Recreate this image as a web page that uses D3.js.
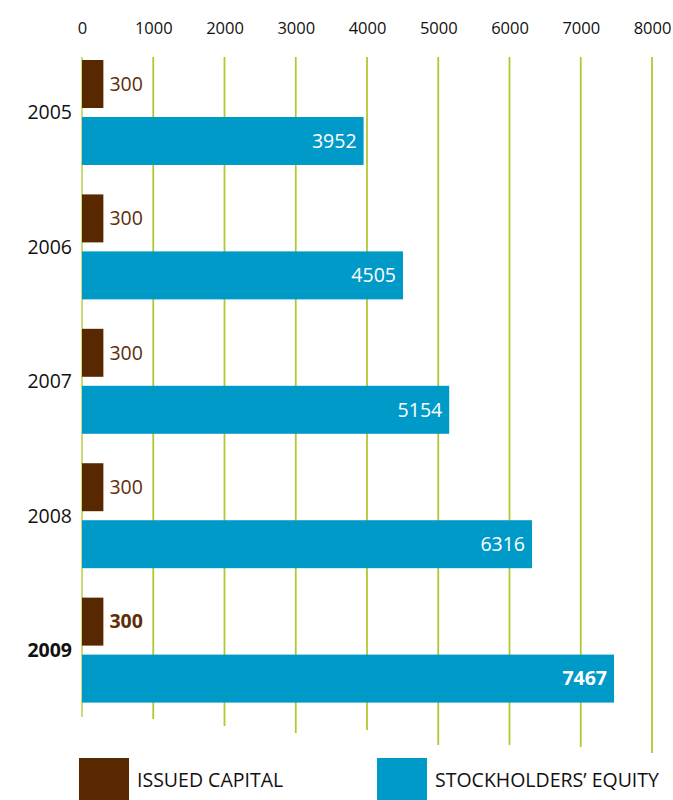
<!DOCTYPE html>
<html>
<head>
<meta charset="utf-8">
<script src="https://cdn.jsdelivr.net/npm/d3@7"></script>
<style>
  html, body { margin: 0; padding: 0; background: #fff; }
  svg { display: block; font-family: "Open Sans", "Noto Sans", sans-serif; }
</style>
</head>
<body>
<svg id="chart" width="673" height="800"></svg>
<script>
// Balance-sheet figures (in thousands)
const years = ["2005", "2006", "2007", "2008", "2009"];
const seriesNames = ["ISSUED CAPITAL", "STOCKHOLDERS’ EQUITY"];
const issuedCapital = [300, 300, 300, 300, 300];
const stockholdersEquity = [3952, 4505, 5154, 6316, 7467];
const tickValues = [0, 1000, 2000, 3000, 4000, 5000, 6000, 7000, 8000];

const seriesColors = ["#582800", "#009ac8"];
const gridColor = "#b7c530";
const highlightYear = "2009";

const rows = years.map((y, i) => ({
  year: y,
  values: [
    { key: seriesNames[0], value: issuedCapital[i] },
    { key: seriesNames[1], value: stockholdersEquity[i] }
  ]
}));

const svg = d3.select("#chart");

const x = d3.scaleLinear().domain([0, 8000]).range([82, 652]);

const y0 = d3.scaleBand()
  .domain(years)
  .range([60, 702.6])
  .paddingInner(0.219)
  .paddingOuter(0);

const y1 = d3.scaleBand()
  .domain(seriesNames)
  .range([0, y0.bandwidth()])
  .paddingInner(0.158)
  .paddingOuter(0);

const color = d3.scaleOrdinal().domain(seriesNames).range(seriesColors);

// Vertical grid lines; their lower ends step down toward the right
const gridBottoms = [717, 719, 726, 733, 730, 745, 745, 747, 753];
svg.append("g")
  .selectAll("line")
  .data(tickValues)
  .join("line")
  .attr("x1", d => x(d))
  .attr("x2", d => x(d))
  .attr("y1", 57)
  .attr("y2", (d, i) => gridBottoms[i])
  .attr("stroke", gridColor)
  .attr("stroke-width", (d, i) => i === 0 ? 1.3 : 1.8);

// Top value axis labels
const axis = d3.axisTop(x).tickValues(tickValues).tickSize(0).tickPadding(0).tickFormat(d3.format("d"));
svg.append("g")
  .attr("transform", "translate(0,34)")
  .call(axis)
  .call(g => g.select(".domain").remove())
  .selectAll("text")
  .attr("font-family", "Open Sans, Noto Sans, sans-serif")
  .attr("font-size", 16.5)
  .attr("fill", "#111");

// Bar groups
const groups = svg.append("g")
  .selectAll("g")
  .data(rows)
  .join("g")
  .attr("transform", d => `translate(0,${y0(d.year)})`);

groups.selectAll("rect")
  .data(d => d.values)
  .join("rect")
  .attr("x", x(0))
  .attr("y", d => y1(d.key))
  .attr("width", d => x(d.value) - x(0))
  .attr("height", y1.bandwidth())
  .attr("fill", d => color(d.key));

// Value labels: outside the short capital bar, inside the equity bar
groups.each(function(row) {
  const g = d3.select(this);
  const bold = row.year === highlightYear ? 700 : 400;
  const cap = row.values[0], eq = row.values[1];
  g.append("text")
    .attr("x", x(cap.value) + 6)
    .attr("y", y1(cap.key) + y1.bandwidth() / 2)
    .attr("dy", "0.35em")
    .attr("font-size", 19.5)
    .attr("font-weight", bold)
    .attr("fill", "#5e2e0a")
    .text(cap.value);
  g.append("text")
    .attr("x", x(eq.value) - 7)
    .attr("y", y1(eq.key) + y1.bandwidth() / 2)
    .attr("dy", "0.35em")
    .attr("text-anchor", "end")
    .attr("font-size", 19.5)
    .attr("font-weight", bold)
    .attr("fill", "#fff")
    .text(eq.value);
  g.append("text")
    .attr("x", 72)
    .attr("y", y0.bandwidth() / 2)
    .attr("dy", "0.35em")
    .attr("text-anchor", "end")
    .attr("font-size", 19.5)
    .attr("font-weight", bold)
    .attr("fill", "#111")
    .text(row.year);
});

// Legend
const legendX = [79, 377];
const legend = svg.append("g")
  .selectAll("g")
  .data(seriesNames)
  .join("g")
  .attr("transform", (d, i) => `translate(${legendX[i]},758)`);
legend.append("rect")
  .attr("width", 50)
  .attr("height", 50)
  .attr("fill", d => color(d));
legend.append("text")
  .attr("x", 58)
  .attr("y", 29)
  .attr("font-size", 19.5)
  .attr("fill", "#111")
  .text(d => d);
</script>
</body>
</html>
